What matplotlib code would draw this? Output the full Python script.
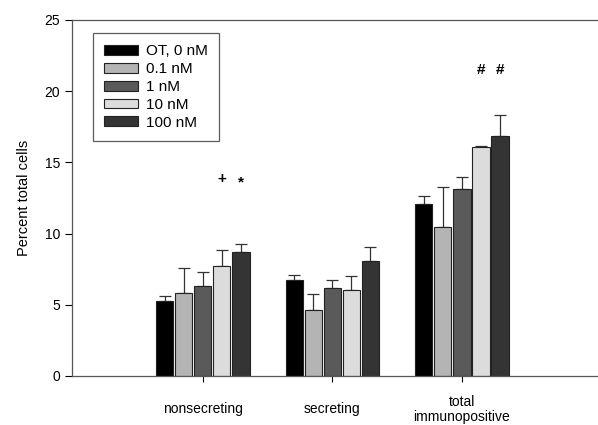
import numpy as np
import matplotlib.pyplot as plt

plt.rcParams["font.family"] = ["Liberation Sans", "DejaVu Sans"]

#================ Dati ================
groups = ["nonsecreting", "secreting", "total\nimmunopositive"]
series = ["OT, 0 nM", "0.1 nM", "1 nM", "10 nM", "100 nM"]

vals_0 = [5.3, 6.75, 12.1]
vals_01 = [5.8, 4.65, 10.45]
vals_1 = [6.35, 6.2, 13.1]
vals_10 = [7.75, 6.05, 16.1]
vals_100 = [8.7, 8.05, 16.85]

err_0 = [0.35, 0.35, 0.55]
err_01 = [1.75, 1.1, 2.85]
err_1 = [0.95, 0.55, 0.9]
err_10 = [1.1, 1.0, 0.05]
err_100 = [0.6, 1.0, 1.5]

# marcatori di significatività: (gruppo, serie, simbolo, y)
marks = [(0, 3, "+", 13.8), (0, 4, "*", 13.6), (2, 3, "#", 21.5), (2, 4, "#", 21.5)]
#======================================

vals = [vals_0, vals_01, vals_1, vals_10, vals_100]
errs = [err_0, err_01, err_1, err_10, err_100]
colors = ["#000000", "#b4b4b4", "#5a5a5a", "#dcdcdc", "#343434"]

fig = plt.figure(figsize=(5.98, 4.25), dpi=100)
ax = fig.add_axes([0.1204, 0.1153, 0.8796, 0.8377])

x = np.arange(len(groups))
w = 0.147
for i in range(len(series)):
	xi = x + (i - 2) * w
	ax.bar(xi, vals[i], width=w * 0.9, color=colors[i], edgecolor="#222222",
		linewidth=0.8, label=series[i], zorder=2)
	ax.errorbar(xi, vals[i], yerr=[np.zeros(len(groups)), errs[i]], fmt="none",
		ecolor="#333333", elinewidth=0.9, capsize=4, capthick=0.9, zorder=1)

for g, s, sym, y in marks:
	ax.text(x[g] + (s - 2) * w, y, sym, ha="center", va="center",
		fontsize=11, fontweight="bold")

ax.set_xlim(-1.01, 3.05)
ax.set_ylim(0, 25)
ax.set_yticks([0, 5, 10, 15, 20, 25])
ax.set_xticks(x)
ax.set_xticklabels(groups, fontsize=10, va="center", linespacing=1.05)
ax.tick_params(axis="y", labelsize=10, direction="out", length=5)
ax.tick_params(axis="x", direction="out", length=4, pad=20)
ax.set_ylabel("Percent total cells", fontsize=10.5, labelpad=10)
ax.spines["right"].set_visible(False)
for sp in ["left", "bottom", "top"]:
	ax.spines[sp].set_color("#555555")
	ax.spines[sp].set_linewidth(0.9)

leg = ax.legend(loc="upper left", bbox_to_anchor=(0.04, 0.9635), borderaxespad=0,
	fontsize=11, frameon=True, fancybox=False, edgecolor="#333333",
	handlelength=2.2, handleheight=0.6, handletextpad=0.5, borderpad=0.75,
	labelspacing=0.25)
leg.get_frame().set_linewidth(0.9)

fig.savefig("out.png", dpi=100)
